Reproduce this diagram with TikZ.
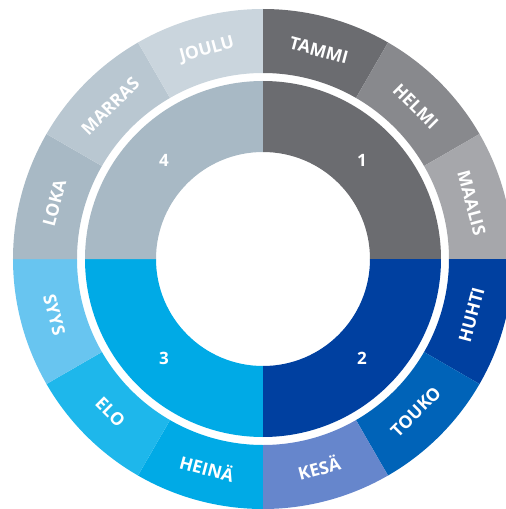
\documentclass[tikz,border=0pt]{standalone}
\usepackage{fontspec}
\setmainfont{Open Sans}
\usepackage{xcolor}
\definecolor{tammicol}{HTML}{6B6C70}
\definecolor{helmicol}{HTML}{88898D}
\definecolor{maaliscol}{HTML}{A6A7AB}
\definecolor{huhticol}{HTML}{0040A0}
\definecolor{toukocol}{HTML}{0063B8}
\definecolor{kesacol}{HTML}{6686CC}
\definecolor{heinacol}{HTML}{00AAE6}
\definecolor{elocol}{HTML}{1EB7EB}
\definecolor{syyscol}{HTML}{68C5F0}
\definecolor{lokacol}{HTML}{A8B9C5}
\definecolor{marrascol}{HTML}{B9C7D1}
\definecolor{joulucol}{HTML}{CAD5DD}

\begin{document}
\begin{tikzpicture}[x=1pt,y=1pt,
  monthlabel/.style={text=white,font=\fontsize{17.5}{17.5}\selectfont\bfseries,inner sep=0pt},
  quarterlabel/.style={text=white,font=\fontsize{17}{17}\selectfont\bfseries,inner sep=0pt}]
%set diagram: centre of the wheel at (0,0)
\useasboundingbox (-263,-250) rectangle (243,259);
%Shape: Outer ring, months
\fill[tammicol] (90:250) arc[start angle=90,end angle=60,radius=250] -- (60:186) arc[start angle=60,end angle=90,radius=186] -- cycle;
\fill[helmicol] (60:250) arc[start angle=60,end angle=30,radius=250] -- (30:186) arc[start angle=30,end angle=60,radius=186] -- cycle;
\fill[maaliscol] (30:250) arc[start angle=30,end angle=0,radius=250] -- (0:186) arc[start angle=0,end angle=30,radius=186] -- cycle;
\fill[huhticol] (0:250) arc[start angle=0,end angle=-30,radius=250] -- (-30:186) arc[start angle=-30,end angle=0,radius=186] -- cycle;
\fill[toukocol] (-30:250) arc[start angle=-30,end angle=-60,radius=250] -- (-60:186) arc[start angle=-60,end angle=-30,radius=186] -- cycle;
\fill[kesacol] (-60:250) arc[start angle=-60,end angle=-90,radius=250] -- (-90:186) arc[start angle=-90,end angle=-60,radius=186] -- cycle;
\fill[heinacol] (-90:250) arc[start angle=-90,end angle=-120,radius=250] -- (-120:186) arc[start angle=-120,end angle=-90,radius=186] -- cycle;
\fill[elocol] (-120:250) arc[start angle=-120,end angle=-150,radius=250] -- (-150:186) arc[start angle=-150,end angle=-120,radius=186] -- cycle;
\fill[syyscol] (-150:250) arc[start angle=-150,end angle=-180,radius=250] -- (-180:186) arc[start angle=-180,end angle=-150,radius=186] -- cycle;
\fill[lokacol] (180:250) arc[start angle=180,end angle=150,radius=250] -- (150:186) arc[start angle=150,end angle=180,radius=186] -- cycle;
\fill[marrascol] (150:250) arc[start angle=150,end angle=120,radius=250] -- (120:186) arc[start angle=120,end angle=150,radius=186] -- cycle;
\fill[joulucol] (120:250) arc[start angle=120,end angle=90,radius=250] -- (90:186) arc[start angle=90,end angle=120,radius=186] -- cycle;
%Shape: Inner ring, quarters
\fill[tammicol] (90:178) arc[start angle=90,end angle=0,radius=178] -- (0:107) arc[start angle=0,end angle=90,radius=107] -- cycle;
\fill[huhticol] (0:178) arc[start angle=0,end angle=-90,radius=178] -- (-90:107) arc[start angle=-90,end angle=0,radius=107] -- cycle;
\fill[heinacol] (-90:178) arc[start angle=-90,end angle=-180,radius=178] -- (-180:107) arc[start angle=-180,end angle=-90,radius=107] -- cycle;
\fill[lokacol] (180:178) arc[start angle=180,end angle=90,radius=178] -- (90:107) arc[start angle=90,end angle=180,radius=107] -- cycle;
% Text Node
\node[monthlabel,rotate=-15] (tammi) at (75:216) {TAMMI};
\node[monthlabel,rotate=-45] (helmi) at (45:216) {HELMI};
\node[monthlabel,rotate=-75] (maalis) at (15:216) {MAALIS};
\node[monthlabel,rotate=75] (huhti) at (-15:216) {HUHTI};
\node[monthlabel,rotate=45] (touko) at (-45:216) {TOUKO};
\node[monthlabel,rotate=15] (kesa) at (-75:216) {KESÄ};
\node[monthlabel,rotate=-15] (heina) at (-105:216) {HEINÄ};
\node[monthlabel,rotate=-45] (elo) at (-135:216) {ELO};
\node[monthlabel,rotate=-75] (syys) at (-165:216) {SYYS};
\node[monthlabel,rotate=75] (loka) at (165:216) {LOKA};
\node[monthlabel,rotate=45] (marras) at (135:216) {MARRAS};
\node[monthlabel,rotate=15] (joulu) at (105:216) {JOULU};
% Text Node
\node[quarterlabel] (q1) at (45:140) {1};
\node[quarterlabel] (q2) at (-45:140) {2};
\node[quarterlabel] (q3) at (-135:140) {3};
\node[quarterlabel] (q4) at (135:140) {4};
\end{tikzpicture}
\end{document}
